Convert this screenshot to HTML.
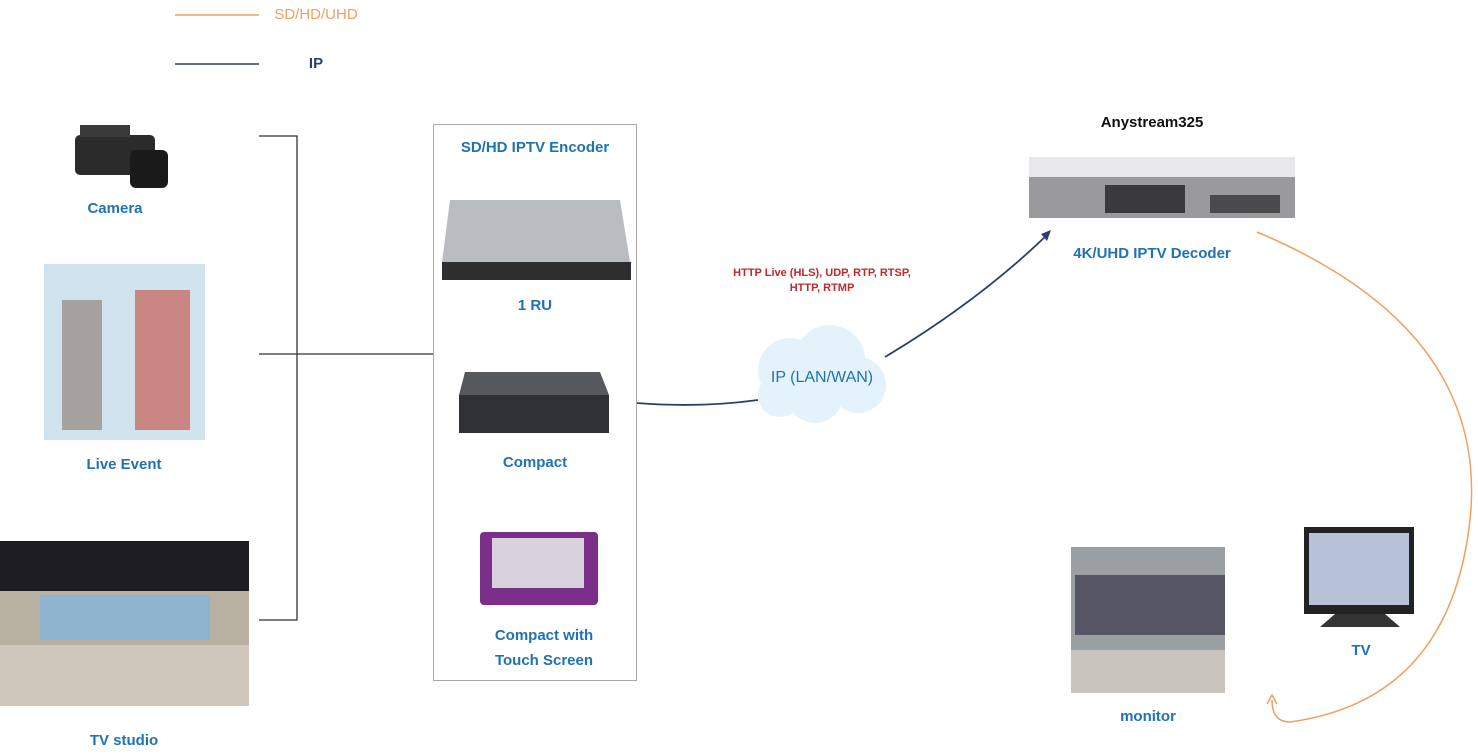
<!DOCTYPE html>
<html><head><style>
body{margin:0;width:1478px;height:754px;background:#fff;position:relative;overflow:hidden;font-family:"Liberation Sans",sans-serif}
.t{position:absolute;color:#1f72b4;font-weight:bold;font-size:15px;white-space:nowrap;text-align:center;transform:translateX(-50%)}
.b{position:absolute}
</style></head><body>
<svg width="1478" height="754" style="position:absolute;left:0;top:0">
<line x1="175" y1="15" x2="259" y2="15" stroke="#f0a060" stroke-width="1.5"/>
<line x1="175" y1="64" x2="259" y2="64" stroke="#2d3e6e" stroke-width="1.5"/>
<g stroke="#333" stroke-width="1.3" fill="none">
<path d="M259 136H297V620H259M259 354H433"/>
</g>
<path d="M637 403Q700 408 758 400" stroke="#2d3e6e" stroke-width="1.8" fill="none"/>
<path d="M885 357Q980 300 1048 234" stroke="#2d3e6e" stroke-width="1.8" fill="none"/>
<path d="M1041 234L1051 230L1047 241Z" fill="#2d3e6e"/>
<path d="M1257 232Q1490 330 1470 520Q1450 700 1290 722Q1272 722 1272 700" stroke="#f0a060" stroke-width="1.5" fill="none"/>
<path d="M1267 704L1272 695L1277 704" stroke="#f0a060" stroke-width="1.5" fill="none"/>
<rect x="433.5" y="124.5" width="203" height="556" fill="none" stroke="#aaa"/>
<!-- cloud -->
<g fill="#e4f3fb">
<circle cx="790" cy="370" r="32"/><circle cx="830" cy="360" r="35"/><circle cx="858" cy="385" r="28"/><circle cx="815" cy="395" r="28"/><circle cx="780" cy="395" r="22"/>
</g>
<!-- camera -->
<rect x="75" y="135" width="80" height="40" rx="5" fill="#2b2b2b"/><rect x="130" y="150" width="38" height="38" rx="6" fill="#1a1a1a"/><rect x="80" y="125" width="50" height="12" fill="#3a3a3a"/>
<!-- live event -->
<rect x="44" y="264" width="161" height="176" fill="#cfe2ee"/>
<rect x="62" y="300" width="40" height="130" fill="#8a7a6a" opacity=".6"/><rect x="135" y="290" width="55" height="140" fill="#c74a3a" opacity=".6"/>
<!-- studio -->
<rect x="0" y="541" width="249" height="165" fill="#b8b0a0"/><rect x="0" y="541" width="249" height="50" fill="#1e1e22"/><rect x="40" y="595" width="170" height="45" fill="#8fb4cf"/><rect x="0" y="645" width="249" height="61" fill="#cfc7bc"/>
<!-- 1RU -->
<path d="M450 200H620L630 262H442Z" fill="#b9bcc0"/><rect x="442" y="262" width="189" height="18" fill="#2e2e30"/>
<!-- compact -->
<path d="M465 372H600L609 395H459Z" fill="#55585c"/><rect x="459" y="395" width="150" height="38" fill="#2f3134"/>
<!-- touch -->
<rect x="480" y="532" width="118" height="73" rx="4" fill="#7b2f8a"/><rect x="492" y="538" width="92" height="50" fill="#d8d2dd"/>
<!-- anystream -->
<rect x="1029" y="157" width="266" height="20" fill="#e8e8ea"/><rect x="1029" y="177" width="266" height="41" fill="#9a9a9c"/><rect x="1105" y="185" width="80" height="28" fill="#3a3a3c"/><rect x="1210" y="195" width="70" height="18" fill="#4a4a4c"/>
<!-- monitor -->
<rect x="1071" y="547" width="154" height="146" fill="#9a9fa3"/><rect x="1075" y="575" width="150" height="60" fill="#556"/><rect x="1071" y="650" width="154" height="43" fill="#c9c4bd"/>
<!-- TV -->
<rect x="1304" y="527" width="110" height="87" fill="#222"/><rect x="1309" y="533" width="100" height="72" fill="#b8c2d6"/><path d="M1335 614H1385L1400 627H1320Z" fill="#333"/>
</svg>
<div class="t" style="left:316px;top:6px;color:#f0a060;font-weight:normal">SD/HD/UHD</div>
<div class="t" style="left:316px;top:55px;color:#2d3e6e">IP</div>
<div class="t" style="left:115px;top:200px">Camera</div>
<div class="t" style="left:124px;top:456px">Live Event</div>
<div class="t" style="left:124px;top:732px">TV studio</div>
<div class="t" style="left:535px;top:139px">SD/HD IPTV Encoder</div>
<div class="t" style="left:535px;top:297px">1 RU</div>
<div class="t" style="left:535px;top:454px">Compact</div>
<div class="t" style="left:544px;top:623px;line-height:25px">Compact with<br>Touch Screen</div>
<div class="t" style="left:822px;top:266px;color:#c0282a;font-size:11px;line-height:15px">HTTP Live (HLS), UDP, RTP, RTSP,<br>HTTP, RTMP</div>
<div class="t" style="left:822px;top:369px;font-size:16px;font-weight:normal">IP (LAN/WAN)</div>
<div class="t" style="left:1152px;top:114px;color:#111">Anystream325</div>
<div class="t" style="left:1152px;top:245px">4K/UHD IPTV Decoder</div>
<div class="t" style="left:1148px;top:708px">monitor</div>
<div class="t" style="left:1361px;top:642px">TV</div>
</body></html>
